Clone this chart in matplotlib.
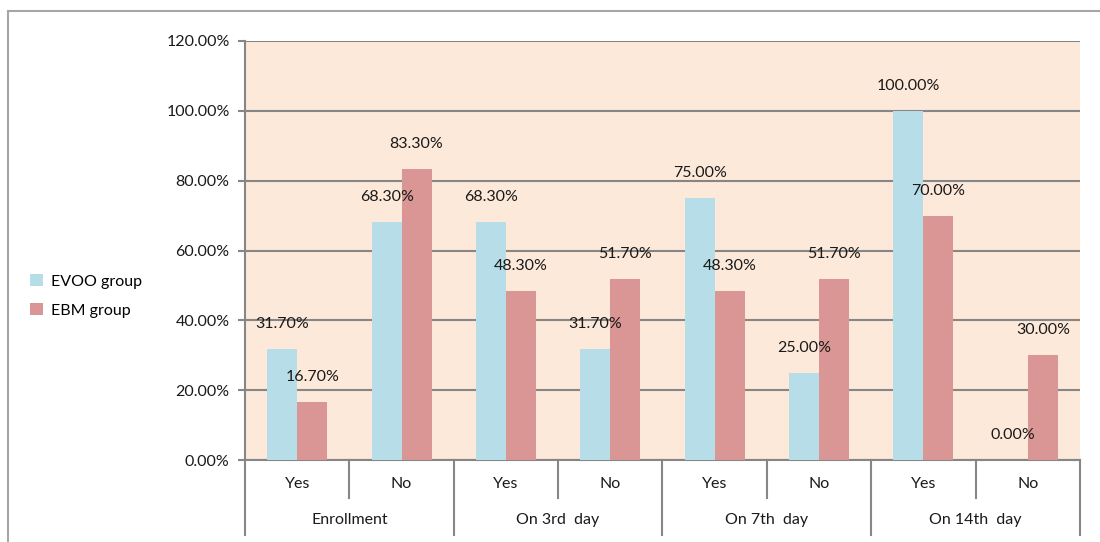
import matplotlib.pyplot as plt
import matplotlib.transforms as mtransforms
from matplotlib.patches import Patch
import numpy as np

plt.rcParams['font.family'] = ['Lato', 'DejaVu Sans']

# data
days = ["Enrollment", "On 3rd  day", "On 7th  day", "On 14th  day"]
answers = ["Yes", "No"]
evoo = [31.7, 68.3, 68.3, 31.7, 75.0, 25.0, 100.0, 0.0]
ebm = [16.7, 83.3, 48.3, 51.7, 48.3, 51.7, 70.0, 30.0]
series_names = ["EVOO group", "EBM group"]

blue = "#B7DDE8"
pink = "#D99694"
grid_col = "#868686"
bg = "#FDE9D9"
fs = 11.5

W, H = 1100, 542
fig = plt.figure(figsize=(W / 100, H / 100), dpi=100)
ax = fig.add_axes([245 / W, 1 - 460 / H, (1080 - 245) / W, (460 - 41) / H])
ax.set_facecolor(bg)

n = len(evoo)
x = np.arange(n)
bw = 0.287
ax.bar(x - bw / 2, evoo, bw, color=blue, zorder=3)
ax.bar(x + bw / 2, ebm, bw, color=pink, zorder=3)

for xs, vals in [(x - bw / 2, evoo), (x + bw / 2, ebm)]:
    for xi, v in zip(xs, vals):
        ax.annotate(f"{v:.2f}%", (xi, v), xytext=(0, 18), textcoords="offset points",
                    ha="center", va="center", fontsize=fs, color="#1a1a1a", zorder=5)

ax.set_xlim(-0.5, n - 0.5)
ax.set_ylim(0, 120)
ax.set_yticks(np.arange(0, 121, 20))
ax.set_yticklabels([f"{t:.2f}%" for t in np.arange(0, 121, 20)], fontsize=fs, color="#1a1a1a")
ax.yaxis.grid(True, color=grid_col, linewidth=1.5, zorder=1)
ax.set_axisbelow(True)
ax.tick_params(axis="y", length=5, width=1.5, color=grid_col, pad=6)
ax.set_xticks([])

for s in ["top", "right"]:
    ax.spines[s].set_visible(False)
for s in ["left", "bottom"]:
    ax.spines[s].set_color(grid_col)
    ax.spines[s].set_linewidth(1.5)

# two-level category axis
tr = mtransforms.blended_transform_factory(ax.transData, fig.transFigure)
y_axis = 1 - 460 / H
y_short = 1 - 498 / H
y_long = 1 - 535 / H
for b in np.arange(-0.5, n, 1.0):
    k = int(b + 0.5)
    y_end = y_long if k % 2 == 0 else y_short
    ax.plot([b, b], [y_axis, y_end], color=grid_col, lw=1.5, transform=tr, clip_on=False)

for i in range(n):
    ax.text(i, 1 - 484 / H, answers[i % 2], transform=tr, ha="center", va="center",
            fontsize=fs, color="#1a1a1a")
for j, d in enumerate(days):
    ax.text(2 * j + 0.5, 1 - 520 / H, d, transform=tr, ha="center", va="center",
            fontsize=fs, color="#1a1a1a")

# outer frame
fig.add_artist(plt.Line2D([8 / W, 1], [1 - 11 / H, 1 - 11 / H], color="#A6A6A6", lw=1.5,
                          transform=fig.transFigure))
fig.add_artist(plt.Line2D([8 / W, 8 / W], [0, 1 - 11 / H], color="#A6A6A6", lw=1.5,
                          transform=fig.transFigure))

handles = [Patch(facecolor=blue), Patch(facecolor=pink)]
fig.legend(handles, series_names, loc="center left", bbox_to_anchor=(16 / W, 1 - 296 / H),
           frameon=False, fontsize=fs, handlelength=0.8, handleheight=0.8,
           handletextpad=0.5, labelspacing=0.9)

fig.savefig("out.png", dpi=100)
